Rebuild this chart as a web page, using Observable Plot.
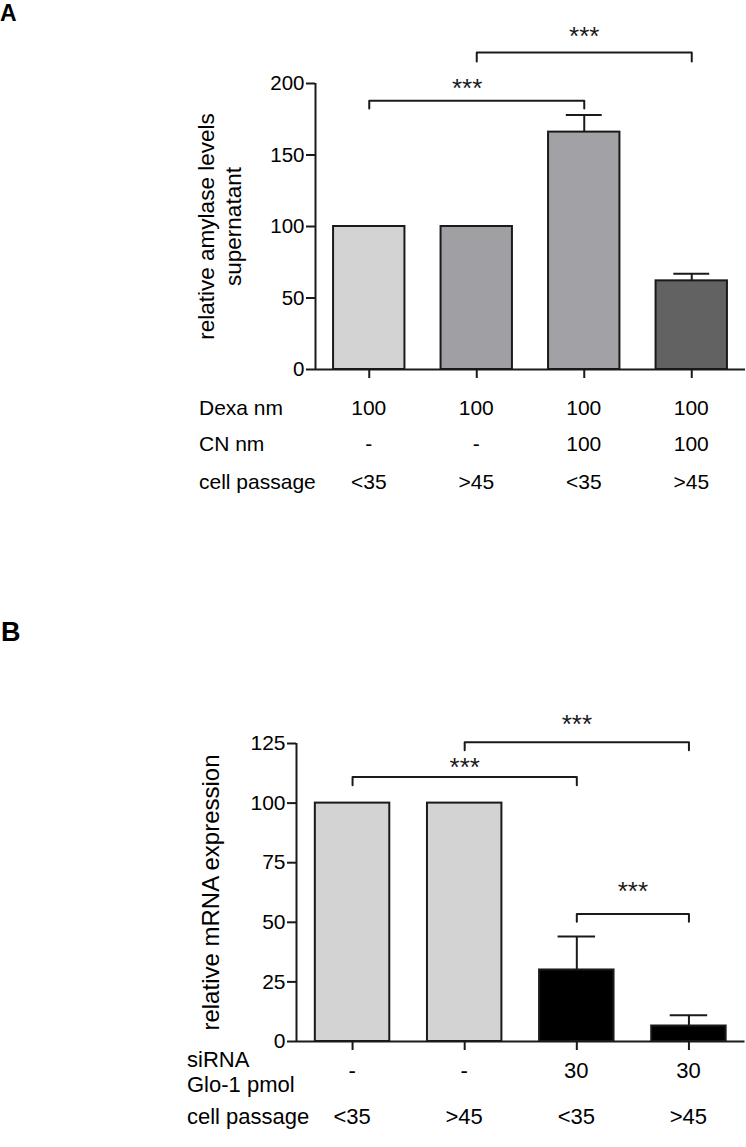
<!DOCTYPE html>
<html><head><meta charset="utf-8">
<script src="https://cdn.jsdelivr.net/npm/d3@7"></script>
<script src="https://cdn.jsdelivr.net/npm/@observablehq/plot@0.6"></script>
<style>
body{margin:0;background:#fff;}
#page{position:relative;width:746px;height:1147px;font-family:"Liberation Sans",Arial,sans-serif;color:#000;overflow:hidden;background:#fff}
.abs{position:absolute;white-space:nowrap;line-height:1}
.panel{position:absolute;left:0}
</style></head><body><div id="page"></div>
<script>
// ---------- Panel A data ----------
const valuesA = [100, 100, 166, 62];
const errHiA = [null, null, 178, 67];
const fillsA = ["#d3d3d3", "#a0a0a4", "#a2a1a6", "#626262"];
const yTicksA = [0, 50, 100, 150, 200];
const yLabelA = "relative amylase levels\nsupernatant";
const brFromA = [0, 1];
const brToA = [2, 3];
const brYA = [188, 221.7];
const brTickA = [182.5, 215.4];
const starXA = [1.41, 2.5];
const starYA = [196.3, 232.4];
const rowLabelsA = ["Dexa nm", "CN nm", "cell passage"];
const rowValuesA = [["100", "100", "100", "100"], ["-", "-", "100", "100"], ["<35", ">45", "<35", ">45"]];

// ---------- Panel B data ----------
const valuesB = [100, 100, 30, 6.5];
const errHiB = [null, null, 44, 11];
const fillsB = ["#d3d3d3", "#d3d3d3", "#000000", "#000000"];
const yTicksB = [0, 25, 50, 75, 100, 125];
const yLabelB = "relative mRNA expression";
const brFromB = [0, 1, 2];
const brToB = [2, 3, 3];
const brYB = [110.9, 125.5, 53.5];
const brTickB = [107.5, 122.2, 50.2];
const starXB = [1.5, 2.5, 3.0];
const starYB = [114.9, 133, 62.8];
const rowLabelsB = ["siRNA\nGlo-1 pmol", "cell passage"];
const rowValuesB = [["-", "-", "30", "30"], ["<35", ">45", "<35", ">45"]];

const FONT = '"Liberation Sans", Arial, sans-serif';
const INK = "#1a1a1a";

function panel(o) {
  const pad = 0.168, cap = 0.167;
  const data = o.values.map((v, i) => ({i, v, hi: o.errHi[i], fill: o.fills[i]}));
  const err = data.filter(d => d.hi != null);
  const br = [];
  o.brFrom.forEach((f, k) => {
    const t = o.brTo[k];
    br.push({k, x: f + 0.5, y: o.brTick[k]}, {k, x: f + 0.5, y: o.brY[k]},
            {k, x: t + 0.5, y: o.brY[k]}, {k, x: t + 0.5, y: o.brTick[k]});
  });
  const stars = o.starX.map((x, k) => ({x, y: o.starY[k]}));
  const ymax = o.yTicks[o.yTicks.length - 1];
  return Plot.plot({
    width: 746, height: o.height,
    marginLeft: o.ml, marginRight: o.mr, marginTop: o.mt, marginBottom: o.mb,
    x: {domain: [0, 4]},
    y: {domain: [0, ymax]},
    style: {fontFamily: FONT, fontSize: o.tickFont + "px", color: "#000", background: "transparent", overflow: "visible"},
    marks: [
      Plot.rect(data, {x1: d => d.i + pad, x2: d => d.i + 1 - pad, y1: 0, y2: "v", fill: "fill", stroke: INK, strokeWidth: 2}),
      Plot.ruleX(err, {x: d => d.i + 0.5, y1: "v", y2: "hi", stroke: INK, strokeWidth: 2}),
      Plot.ruleY(err, {y: "hi", x1: d => d.i + 0.5 - cap, x2: d => d.i + 0.5 + cap, stroke: INK, strokeWidth: 2}),
      Plot.line(br, {x: "x", y: "y", z: "k", stroke: INK, strokeWidth: 2}),
      Plot.text(stars, {x: "x", y: "y", text: () => "***", fontSize: 26, fill: INK}),
      Plot.ruleY([0], {stroke: INK, strokeWidth: 2}),
      Plot.ruleX([0], {y1: 0, y2: ymax, stroke: INK, strokeWidth: 2}),
      Plot.axisY({ticks: o.yTicks, tickSize: 9, tickPadding: 2, fontSize: o.tickFont, label: null, stroke: INK, strokeWidth: 2}),
      Plot.axisX({ticks: [0.5, 1.5, 2.5, 3.5], tickSize: 9, tickFormat: () => "", label: null, stroke: INK, strokeWidth: 2}),
      Plot.text([o.yLabel], {frameAnchor: "left", textAnchor: "middle", dx: o.yLabelDx, rotate: -90, fontSize: o.yLabelFont, lineHeight: 1.23})
    ]
  });
}

const page = document.getElementById("page");

function addText(txt, left, baseline, size, opts = {}) {
  const d = document.createElement("div");
  d.className = "abs";
  d.textContent = txt;
  d.style.fontSize = size + "px";
  d.style.top = (baseline - 0.8465 * size) + "px";
  d.style.left = left + "px";
  if (opts.center) d.style.transform = "translateX(-50%)";
  if (opts.bold) d.style.fontWeight = "bold";
  page.appendChild(d);
}

function mount(svg, top) {
  const w = document.createElement("div");
  w.className = "panel";
  w.style.top = top + "px";
  w.appendChild(svg);
  page.appendChild(w);
}

// Panel A
const plotA = panel({
  values: valuesA, errHi: errHiA, fills: fillsA, yTicks: yTicksA, yLabel: yLabelA,
  brFrom: brFromA, brTo: brToA, brY: brYA, brTick: brTickA, starX: starXA, starY: starYA,
  height: 380, ml: 315, mr: 1, mt: 83, mb: 11, tickFont: 20.5, yLabelDx: -97, yLabelFont: 22.5
});
mount(plotA, 0);

// Panel B
const topB = 660;
const plotB = panel({
  values: valuesB, errHi: errHiB, fills: fillsB, yTicks: yTicksB, yLabel: yLabelB,
  brFrom: brFromB, brTo: brToB, brY: brYB, brTick: brTickB, starX: starXB, starY: starYB,
  height: 395, ml: 296, mr: 1.5, mt: 83, mb: 14, tickFont: 21, yLabelDx: -87, yLabelFont: 24
});
mount(plotB, topB);

// Panel letters
addText("A", 0, 21, 23, {bold: true});
addText("B", 1, 642, 27, {bold: true});

// Table under panel A (columns follow the bar centres of the x scale)
const xA = plotA.scale("x");
const baseA = [415, 451, 489];
rowLabelsA.forEach((lab, r) => {
  addText(lab, 199, baseA[r], 21);
  rowValuesA[r].forEach((v, c) => addText(v, xA.apply(c + 0.5), baseA[r], 21, {center: true}));
});

// Table under panel B
const xB = plotB.scale("x");
const labelBaseB = [[1068, 1093], [1125]];
const valueBaseB = [1079, 1125];
rowLabelsB.forEach((lab, r) => {
  lab.split("\n").forEach((line, j) => addText(line, 187, labelBaseB[r][j], 22));
  rowValuesB[r].forEach((v, c) => addText(v, xB.apply(c + 0.5), valueBaseB[r], 22, {center: true}));
});
</script>
</body></html>
